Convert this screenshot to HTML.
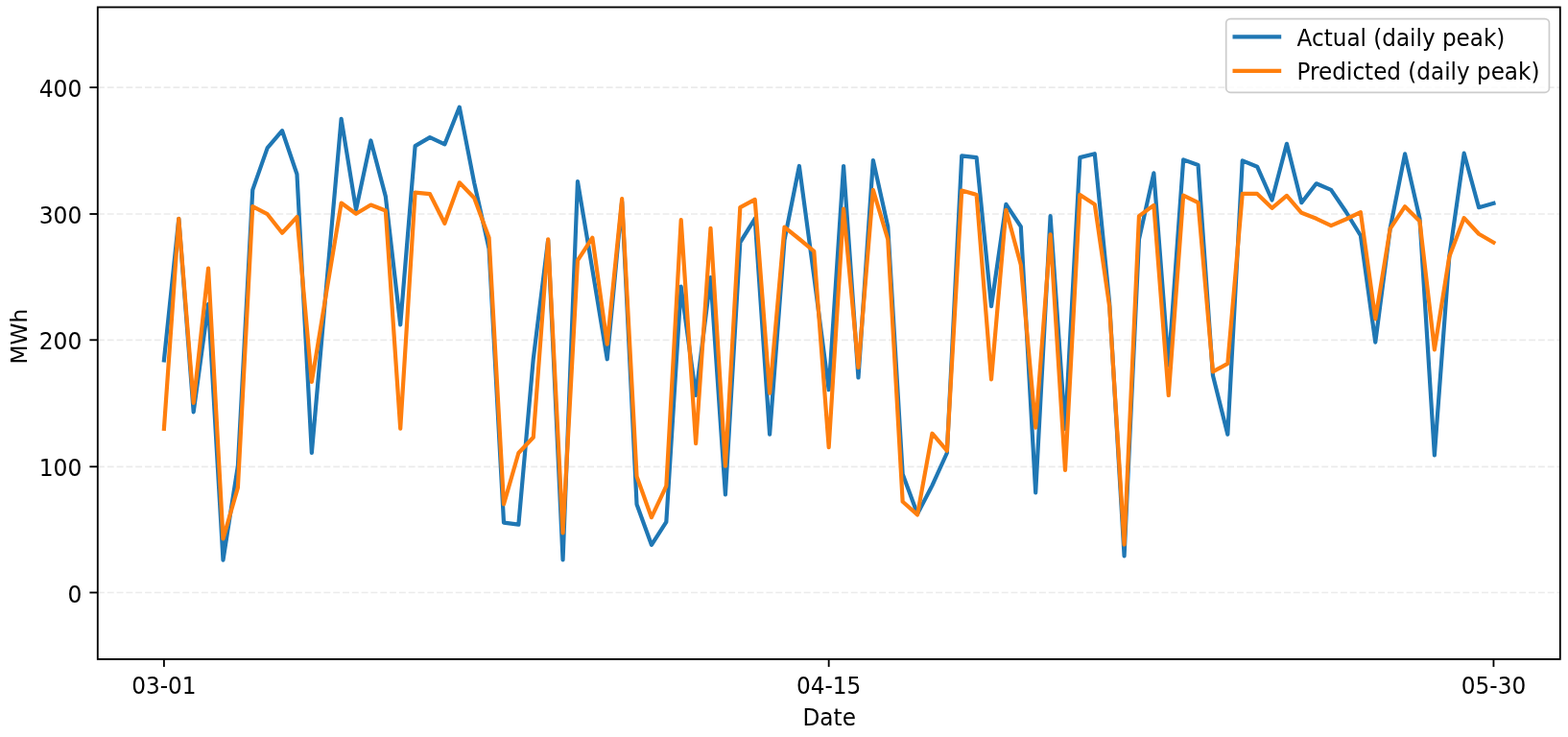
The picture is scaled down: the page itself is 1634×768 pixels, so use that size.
<!DOCTYPE html>
<html><head><meta charset="utf-8"><style>
html,body{margin:0;padding:0;background:#fff;}
svg{display:block;}
.lbl{font-family:"DejaVu Sans","Liberation Sans",sans-serif;font-size:23.2px;fill:#000;}
.grid{stroke:#b0b0b0;stroke-opacity:0.26;stroke-width:1.67;stroke-dasharray:6.85 2.96;}
.tick{stroke:#000;stroke-width:1.85;}
.spine{fill:none;stroke:#000;stroke-width:1.85;stroke-linejoin:miter;}
.ser{fill:none;stroke-width:4.2;stroke-linejoin:round;stroke-linecap:square;}
</style></head><body>
<svg width="1634" height="768" viewBox="0 0 1634 768">
<rect x="0" y="0" width="1634" height="768" fill="#fff"/>
<line x1="102.0" y1="617.50" x2="1625.8" y2="617.50" class="grid"/>
<line x1="102.0" y1="486.30" x2="1625.8" y2="486.30" class="grid"/>
<line x1="102.0" y1="354.30" x2="1625.8" y2="354.30" class="grid"/>
<line x1="102.0" y1="223.00" x2="1625.8" y2="223.00" class="grid"/>
<line x1="102.0" y1="91.10" x2="1625.8" y2="91.10" class="grid"/>

<defs><clipPath id="ax"><rect x="101.8" y="7.5" width="1524.00" height="679.40"/></clipPath></defs>
<g clip-path="url(#ax)">
<polyline class="ser" stroke="#1f77b4" points="170.90,375.40 186.30,228.00 201.69,429.30 217.09,316.80 232.48,583.60 247.88,485.60 263.27,197.90 278.67,154.10 294.06,136.20 309.46,181.50 324.85,471.90 340.25,297.00 355.64,123.80 371.03,218.50 386.43,146.50 401.82,204.60 417.22,338.40 432.62,152.10 448.01,143.10 463.40,150.40 478.80,111.60 494.20,190.60 509.59,259.30 524.99,544.70 540.38,546.70 555.77,373.90 571.17,250.00 586.56,583.30 601.96,189.00 617.36,281.00 632.75,374.30 648.14,210.00 663.54,525.50 678.93,567.80 694.33,543.80 709.72,298.70 725.12,411.90 740.51,289.20 755.91,515.30 771.30,252.70 786.70,227.80 802.09,452.60 817.49,250.00 832.88,173.00 848.28,288.00 863.67,406.20 879.07,173.00 894.46,393.50 909.86,167.00 925.25,236.10 940.65,494.00 956.04,535.60 971.44,505.90 986.83,472.00 1002.23,162.40 1017.62,164.10 1033.02,319.10 1048.41,212.90 1063.81,236.10 1079.20,513.50 1094.60,225.10 1110.00,447.00 1125.39,164.10 1140.79,160.20 1156.18,316.00 1171.58,579.30 1186.97,249.40 1202.37,180.30 1217.76,380.60 1233.15,166.40 1248.55,172.00 1263.95,391.30 1279.34,452.70 1294.74,167.40 1310.13,173.70 1325.53,208.50 1340.92,149.80 1356.32,211.20 1371.71,191.30 1387.11,197.90 1402.50,220.50 1417.89,245.50 1433.29,356.60 1448.68,238.00 1464.08,160.40 1479.48,227.80 1494.87,474.30 1510.27,267.60 1525.66,159.70 1541.06,216.20 1556.45,211.90"/>
<polyline class="ser" stroke="#ff7f0e" points="170.90,446.80 186.30,227.80 201.69,419.80 217.09,279.60 232.48,561.30 247.88,508.20 263.27,215.20 278.67,223.20 294.06,242.70 309.46,226.10 324.85,398.00 340.25,304.00 355.64,211.50 371.03,222.80 386.43,213.50 401.82,219.50 417.22,446.60 432.62,200.60 448.01,202.20 463.40,232.80 478.80,190.30 494.20,206.20 509.59,247.70 524.99,525.50 540.38,472.00 555.77,455.80 571.17,249.40 586.56,555.30 601.96,271.40 617.36,247.70 632.75,358.60 648.14,207.20 663.54,496.40 678.93,539.20 694.33,506.50 709.72,229.10 725.12,462.10 740.51,237.80 755.91,485.60 771.30,216.20 786.70,207.90 802.09,409.70 817.49,236.70 832.88,249.00 848.28,261.80 863.67,466.20 879.07,217.50 894.46,383.00 909.86,197.90 925.25,249.40 940.65,522.80 956.04,536.40 971.44,451.70 986.83,469.70 1002.23,198.60 1017.62,202.90 1033.02,395.40 1048.41,218.80 1063.81,276.00 1079.20,445.60 1094.60,244.40 1110.00,489.90 1125.39,202.90 1140.79,212.90 1156.18,319.40 1171.58,567.50 1186.97,225.10 1202.37,213.90 1217.76,412.00 1233.15,203.60 1248.55,211.20 1263.95,387.40 1279.34,378.90 1294.74,201.90 1310.13,201.90 1325.53,216.80 1340.92,203.90 1356.32,221.80 1371.71,227.80 1387.11,235.10 1402.50,228.50 1417.89,221.20 1433.29,332.30 1448.68,238.40 1464.08,215.20 1479.48,230.50 1494.87,364.30 1510.27,267.60 1525.66,227.10 1541.06,243.70 1556.45,252.70"/>
</g>
<rect class="spine" x="101.8" y="7.5" width="1524.00" height="679.40"/>
<line x1="93.39999999999999" y1="617.50" x2="101.8" y2="617.50" class="tick"/>
<text transform="translate(85.30,628.00) scale(1,1.035)" text-anchor="end" style="font-size:23.4px" class="lbl">0</text>
<line x1="93.39999999999999" y1="486.30" x2="101.8" y2="486.30" class="tick"/>
<text transform="translate(85.30,496.00) scale(1,1.035)" text-anchor="end" style="font-size:23.4px" class="lbl">100</text>
<line x1="93.39999999999999" y1="354.30" x2="101.8" y2="354.30" class="tick"/>
<text transform="translate(85.30,364.00) scale(1,1.035)" text-anchor="end" style="font-size:23.4px" class="lbl">200</text>
<line x1="93.39999999999999" y1="223.00" x2="101.8" y2="223.00" class="tick"/>
<text transform="translate(85.30,233.00) scale(1,1.035)" text-anchor="end" style="font-size:23.4px" class="lbl">300</text>
<line x1="93.39999999999999" y1="91.10" x2="101.8" y2="91.10" class="tick"/>
<text transform="translate(85.30,101.00) scale(1,1.035)" text-anchor="end" style="font-size:23.4px" class="lbl">400</text>

<line x1="170.90" y1="686.9" x2="170.90" y2="694.9" class="tick"/>
<text transform="translate(170.90,722.80) scale(1,1.035)" text-anchor="middle" class="lbl">03-01</text>
<line x1="863.67" y1="686.9" x2="863.67" y2="694.9" class="tick"/>
<text transform="translate(863.67,722.80) scale(1,1.035)" text-anchor="middle" class="lbl">04-15</text>
<line x1="1556.45" y1="686.9" x2="1556.45" y2="694.9" class="tick"/>
<text transform="translate(1556.45,722.80) scale(1,1.035)" text-anchor="middle" class="lbl">05-30</text>

<text transform="translate(864.20,756.00) scale(1,1.035)" text-anchor="middle" class="lbl">Date</text>

<text transform="translate(28.25,350.6) rotate(-90)" text-anchor="middle" class="lbl">MWh</text>
<rect x="1277.7" y="19.6" width="336.75" height="76.75" rx="4.6" ry="4.6" fill="#fff" fill-opacity="0.8" stroke="#cccccc" stroke-width="1.7"/>
<line x1="1286.6" y1="38.3" x2="1333.1" y2="38.3" class="ser" stroke="#1f77b4"/>
<line x1="1286.6" y1="73.85" x2="1333.1" y2="73.85" class="ser" stroke="#ff7f0e"/>
<text transform="translate(1351.60,47.50) scale(1,1.035)" style="font-size:23.1px" class="lbl">Actual (daily peak)</text>

<text transform="translate(1351.60,82.90) scale(1,1.035)" style="font-size:23.1px" class="lbl">Predicted (daily peak)</text>

</svg>
</body></html>
